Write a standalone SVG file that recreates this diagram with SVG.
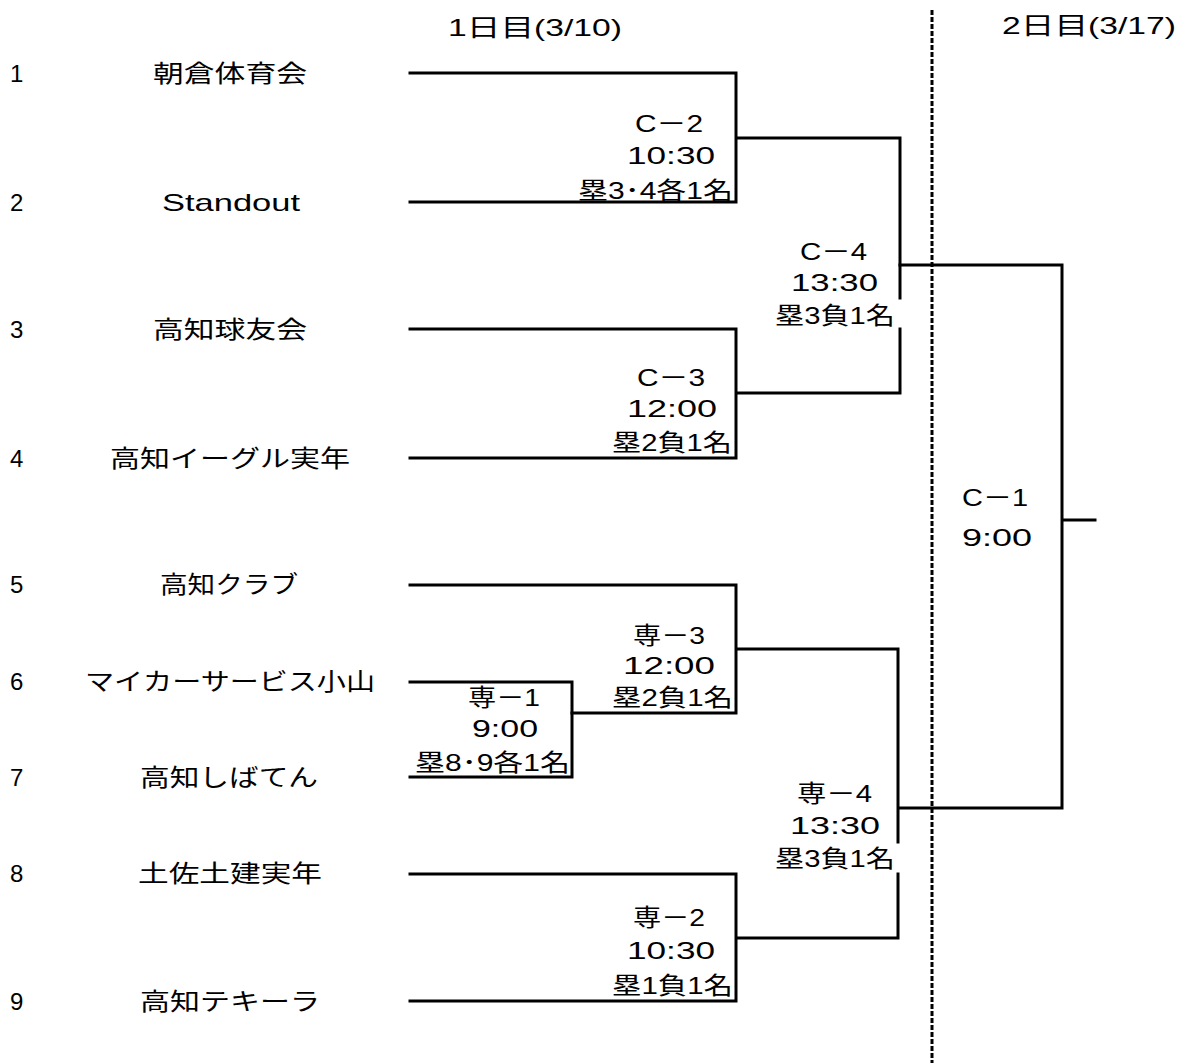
<svg xmlns="http://www.w3.org/2000/svg" width="1181" height="1063" viewBox="0 0 1181 1063">
<style>
text{font-family:"Liberation Sans","Noto Sans CJK JP",sans-serif;font-size:24px;fill:#000}
.l{stroke:#000;stroke-width:3;fill:none;stroke-linecap:square}
.d{stroke:#000;stroke-width:3;fill:none;stroke-dasharray:5,2}
</style>
<rect width="1181" height="1063" fill="#fff"/>
<g id="headers">
<text x="448" y="36" textLength="174" lengthAdjust="spacingAndGlyphs">1日目(3/10)</text>
<text x="1002" y="34" textLength="174" lengthAdjust="spacingAndGlyphs">2日目(3/17)</text>
</g>
<g id="connectors">
<line class="d" x1="932" y1="10" x2="932" y2="1063"/>
<path class="l" d="M410,73H736V202H410M736,138H900V298M900,329V393H736M410,329H736V458H410"/>
<path class="l" d="M900,265H1062V808H900M1062,520H1095"/>
<path class="l" d="M410,585H736V713H572M736,649H898V842M898,874V938H736M410,874H736V1001H410"/>
<path class="l" d="M410,682H572V777H410"/>
</g>
<g id="team1"><text x="10" y="82">1</text><text x="230" y="82" text-anchor="middle" textLength="154" lengthAdjust="spacingAndGlyphs">朝倉体育会</text></g>
<g id="team2"><text x="10" y="211">2</text><text x="231" y="211" text-anchor="middle" textLength="138" lengthAdjust="spacingAndGlyphs">Standout</text></g>
<g id="team3"><text x="10" y="338">3</text><text x="230" y="338" text-anchor="middle" textLength="154" lengthAdjust="spacingAndGlyphs">高知球友会</text></g>
<g id="team4"><text x="10" y="467">4</text><text x="230" y="467" text-anchor="middle" textLength="240" lengthAdjust="spacingAndGlyphs">高知イーグル実年</text></g>
<g id="team5"><text x="10" y="593">5</text><text x="229" y="593" text-anchor="middle" textLength="138" lengthAdjust="spacingAndGlyphs">高知クラブ</text></g>
<g id="team6"><text x="10" y="690">6</text><text x="230" y="690" text-anchor="middle" textLength="290" lengthAdjust="spacingAndGlyphs">マイカーサービス小山</text></g>
<g id="team7"><text x="10" y="786">7</text><text x="229" y="786" text-anchor="middle" textLength="178" lengthAdjust="spacingAndGlyphs">高知しばてん</text></g>
<g id="team8"><text x="10" y="882">8</text><text x="230" y="882" text-anchor="middle" textLength="184" lengthAdjust="spacingAndGlyphs">土佐土建実年</text></g>
<g id="team9"><text x="10" y="1010">9</text><text x="230" y="1010" text-anchor="middle" textLength="180" lengthAdjust="spacingAndGlyphs">高知テキーラ</text></g>
<g id="matchC2"><text><tspan x="635" y="132" textLength="68" lengthAdjust="spacingAndGlyphs">C－2</tspan><tspan x="627" y="164" textLength="88" lengthAdjust="spacingAndGlyphs">10:30</tspan><tspan x="578" y="199" textLength="155" lengthAdjust="spacingAndGlyphs">塁3･4各1名</tspan></text></g>
<g id="matchC3"><text><tspan x="637" y="386" textLength="68" lengthAdjust="spacingAndGlyphs">C－3</tspan><tspan x="627" y="417" textLength="90" lengthAdjust="spacingAndGlyphs">12:00</tspan><tspan x="612" y="451" textLength="120" lengthAdjust="spacingAndGlyphs">塁2負1名</tspan></text></g>
<g id="matchC4"><text><tspan x="800" y="260" textLength="67" lengthAdjust="spacingAndGlyphs">C－4</tspan><tspan x="791" y="291" textLength="87" lengthAdjust="spacingAndGlyphs">13:30</tspan><tspan x="775" y="324" textLength="120" lengthAdjust="spacingAndGlyphs">塁3負1名</tspan></text></g>
<g id="matchS3"><text><tspan x="633" y="644" textLength="72" lengthAdjust="spacingAndGlyphs">専－3</tspan><tspan x="623" y="674" textLength="92" lengthAdjust="spacingAndGlyphs">12:00</tspan><tspan x="612" y="706" textLength="121" lengthAdjust="spacingAndGlyphs">塁2負1名</tspan></text></g>
<g id="matchS1"><text><tspan x="468" y="706" textLength="72" lengthAdjust="spacingAndGlyphs">専－1</tspan><tspan x="472" y="737" textLength="66" lengthAdjust="spacingAndGlyphs">9:00</tspan><tspan x="415" y="771" textLength="155" lengthAdjust="spacingAndGlyphs">塁8･9各1名</tspan></text></g>
<g id="matchS2"><text><tspan x="633" y="926" textLength="72" lengthAdjust="spacingAndGlyphs">専－2</tspan><tspan x="627" y="959" textLength="88" lengthAdjust="spacingAndGlyphs">10:30</tspan><tspan x="612" y="994" textLength="121" lengthAdjust="spacingAndGlyphs">塁1負1名</tspan></text></g>
<g id="matchS4"><text><tspan x="797" y="802" textLength="75" lengthAdjust="spacingAndGlyphs">専－4</tspan><tspan x="790" y="834" textLength="90" lengthAdjust="spacingAndGlyphs">13:30</tspan><tspan x="775" y="867" textLength="120" lengthAdjust="spacingAndGlyphs">塁3負1名</tspan></text></g>
<g id="matchC1"><text><tspan x="962" y="506" textLength="66" lengthAdjust="spacingAndGlyphs">C－1</tspan><tspan x="962" y="546" textLength="70" lengthAdjust="spacingAndGlyphs">9:00</tspan></text></g>
</svg>
